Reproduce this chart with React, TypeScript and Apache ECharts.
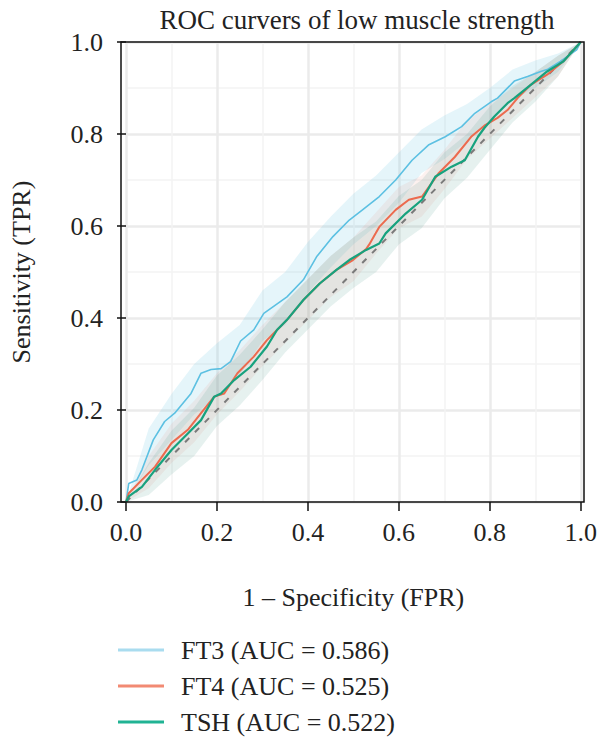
import React, { useEffect, useRef } from "react";
import * as echarts from "echarts";

const TITLE = "ROC curvers of low muscle strength";
const X_NAME = "1 – Specificity (FPR)";
const Y_NAME = "Sensitivity (TPR)";
const SERIES_NAMES = ["FT3 (AUC = 0.586)", "FT4 (AUC = 0.525)", "TSH (AUC = 0.522)"];

const FT3: number[][] = [
  [0, 0], [0.006, 0.04], [0.024, 0.048], [0.035, 0.07], [0.06, 0.135], [0.085, 0.175],
  [0.107, 0.193], [0.143, 0.236], [0.165, 0.28], [0.187, 0.288], [0.209, 0.29], [0.23, 0.305],
  [0.252, 0.35], [0.281, 0.374], [0.303, 0.41], [0.354, 0.446], [0.39, 0.483], [0.419, 0.533],
  [0.455, 0.577], [0.491, 0.613], [0.52, 0.635], [0.557, 0.664], [0.593, 0.7], [0.629, 0.743],
  [0.665, 0.776], [0.702, 0.794], [0.738, 0.816], [0.767, 0.845], [0.803, 0.87], [0.817, 0.878],
  [0.854, 0.915], [0.883, 0.925], [0.912, 0.936], [0.926, 0.94], [0.955, 0.958], [0.991, 0.983], [1, 1],
];

const FT4: number[][] = [
  [0, 0], [0.006, 0.019], [0.035, 0.048], [0.064, 0.077], [0.1, 0.128], [0.136, 0.157],
  [0.165, 0.193], [0.194, 0.229], [0.216, 0.236], [0.245, 0.28], [0.281, 0.316], [0.31, 0.352],
  [0.332, 0.374], [0.354, 0.396], [0.39, 0.439], [0.426, 0.475], [0.462, 0.504], [0.499, 0.526],
  [0.528, 0.55], [0.535, 0.56], [0.549, 0.584], [0.557, 0.598], [0.593, 0.635], [0.622, 0.657],
  [0.651, 0.664], [0.687, 0.714], [0.723, 0.75], [0.759, 0.794], [0.788, 0.818], [0.817, 0.835],
  [0.839, 0.852], [0.861, 0.878], [0.89, 0.907], [0.926, 0.929], [0.962, 0.958], [1, 1],
];

const TSH: number[][] = [
  [0, 0], [0.006, 0.012], [0.035, 0.033], [0.064, 0.07], [0.1, 0.113], [0.136, 0.149],
  [0.165, 0.178], [0.194, 0.229], [0.209, 0.236], [0.238, 0.265], [0.274, 0.294], [0.31, 0.338],
  [0.332, 0.374], [0.354, 0.396], [0.39, 0.439], [0.426, 0.475], [0.462, 0.504], [0.491, 0.526],
  [0.528, 0.548], [0.557, 0.562], [0.571, 0.584], [0.615, 0.627], [0.651, 0.657], [0.68, 0.707],
  [0.716, 0.729], [0.745, 0.743], [0.774, 0.794], [0.788, 0.813], [0.81, 0.838], [0.839, 0.867],
  [0.854, 0.878], [0.89, 0.907], [0.926, 0.936], [0.962, 0.958], [1, 1],
];

const DIAGONAL: number[][] = [[0, 0], [1, 1]];

// confidence band grid
const BAND_X = [0, 0.05, 0.1, 0.15, 0.2, 0.25, 0.3, 0.35, 0.4, 0.45, 0.5, 0.55, 0.6, 0.65, 0.7, 0.75, 0.8, 0.85, 0.9, 0.95, 1];
const FT3_UPPER = [0, 0.16, 0.235, 0.3, 0.345, 0.385, 0.46, 0.5, 0.565, 0.62, 0.67, 0.71, 0.76, 0.81, 0.84, 0.865, 0.9, 0.94, 0.96, 0.975, 1];
const FT3_LOWER = [0, 0.08, 0.135, 0.19, 0.23, 0.275, 0.35, 0.385, 0.455, 0.51, 0.56, 0.6, 0.65, 0.715, 0.745, 0.785, 0.83, 0.875, 0.9, 0.935, 1];
const FT4_UPPER = [0, 0.1, 0.17, 0.22, 0.28, 0.33, 0.385, 0.435, 0.485, 0.535, 0.575, 0.63, 0.685, 0.71, 0.765, 0.83, 0.865, 0.9, 0.935, 0.97, 1];
const FT4_LOWER = [0, 0.03, 0.085, 0.13, 0.19, 0.24, 0.295, 0.345, 0.395, 0.445, 0.48, 0.54, 0.595, 0.62, 0.68, 0.745, 0.79, 0.835, 0.88, 0.925, 1];
const TSH_UPPER = [0, 0.085, 0.155, 0.205, 0.275, 0.32, 0.375, 0.435, 0.485, 0.535, 0.575, 0.61, 0.665, 0.7, 0.76, 0.8, 0.86, 0.905, 0.935, 0.97, 1];
const TSH_LOWER = [0, 0.015, 0.06, 0.1, 0.165, 0.21, 0.265, 0.325, 0.375, 0.425, 0.465, 0.5, 0.56, 0.595, 0.66, 0.705, 0.765, 0.825, 0.87, 0.925, 1];

const FONT = "Liberation Serif";

function bandSeries(upper: number[], lower: number[], fill: string) {
  return {
    type: "custom",
    silent: true,
    z: 1,
    data: [[0, 0]],
    renderItem: (_params: any, api: any) => {
      const pts: number[][] = [];
      for (let i = 0; i < BAND_X.length; i++) pts.push(api.coord([BAND_X[i], upper[i]]));
      for (let i = BAND_X.length - 1; i >= 0; i--) pts.push(api.coord([BAND_X[i], lower[i]]));
      return {
        type: "polygon",
        shape: { points: pts },
        style: { fill, stroke: "none" },
      };
    },
  };
}

export default function App() {
  const ref = useRef<HTMLDivElement>(null);
  useEffect(() => {
    document.body.style.margin = "0";
    const chart = echarts.init(ref.current!, undefined, { renderer: "svg" });
    const lineColors = ["#5cc0e2", "#ec6a4e", "#17a27e"];
    const legendColors = ["#a9dcef", "#f28a73", "#20b394"];
    chart.setOption({
      animation: false,
      backgroundColor: "#ffffff",
      title: {
        text: TITLE,
        left: 352,
        textAlign: "center",
        top: 1,
        textStyle: { fontFamily: FONT, fontSize: 27, fontWeight: "normal", color: "#222" },
      },
      grid: { left: 124, top: 42, width: 460, height: 460 },
      xAxis: {
        type: "value",
        min: 0,
        max: 1,
        interval: 0.2,
        name: X_NAME,
        nameLocation: "middle",
        nameGap: 82,
        nameTextStyle: { fontFamily: FONT, fontSize: 26, color: "#222" },
        axisLine: { show: false },
        axisTick: { show: true, length: 9, lineStyle: { color: "#111", width: 1.5 } },
        axisLabel: {
          fontFamily: FONT, fontSize: 26, color: "#222", margin: 17,
          formatter: (v: number) => v.toFixed(1),
        },
        splitLine: { show: true, lineStyle: { color: "#ebebeb", width: 2.5 } },
        minorTick: { show: false, splitNumber: 2 },
        minorSplitLine: { show: true, lineStyle: { color: "#f3f3f3", width: 1.5 } },
      },
      yAxis: {
        type: "value",
        min: 0,
        max: 1,
        interval: 0.2,
        offset: 3,
        name: Y_NAME,
        nameLocation: "middle",
        nameGap: 89,
        nameTextStyle: { fontFamily: FONT, fontSize: 26, color: "#222" },
        axisLine: { show: false },
        axisTick: { show: true, length: 9, lineStyle: { color: "#111", width: 1.5 } },
        axisLabel: {
          fontFamily: FONT, fontSize: 26, color: "#222", margin: 20,
          formatter: (v: number) => v.toFixed(1),
        },
        splitLine: { show: true, lineStyle: { color: "#ebebeb", width: 2.5 } },
        minorTick: { show: false, splitNumber: 2 },
        minorSplitLine: { show: true, lineStyle: { color: "#f3f3f3", width: 1.5 } },
      },
      legend: {
        orient: "vertical",
        left: 118,
        top: 637,
        padding: 0,
        itemWidth: 46,
        itemHeight: 3,
        itemGap: 10,
        icon: "rect",
        textStyle: { fontFamily: FONT, fontSize: 26, color: "#222", lineHeight: 26, padding: [0, 0, 0, 12] },
        data: SERIES_NAMES.map((n, i) => ({ name: n, itemStyle: { color: legendColors[i] } })),
      },
      graphic: [
        {
          type: "rect",
          z: 100,
          silent: true,
          shape: { x: 121, y: 42, width: 463, height: 460 },
          style: { fill: "none", stroke: "#111", lineWidth: 1.5 },
        },
      ],
      series: [
        bandSeries(FT3_UPPER, FT3_LOWER, "rgba(110,200,230,0.18)"),
        bandSeries(FT4_UPPER, FT4_LOWER, "rgba(240,120,100,0.10)"),
        bandSeries(TSH_UPPER, TSH_LOWER, "rgba(60,150,130,0.13)"),
        {
          type: "line",
          data: DIAGONAL,
          silent: true,
          symbol: "none",
          z: 2,
          lineStyle: { color: "#7a7a7a", width: 2, type: [6, 8] },
        },
        {
          name: SERIES_NAMES[0], type: "line", data: FT3, symbol: "none", z: 3,
          lineStyle: { color: lineColors[0], width: 1.6 }, itemStyle: { color: lineColors[0] },
        },
        {
          name: SERIES_NAMES[1], type: "line", data: FT4, symbol: "none", z: 3,
          lineStyle: { color: lineColors[1], width: 2 }, itemStyle: { color: lineColors[1] },
        },
        {
          name: SERIES_NAMES[2], type: "line", data: TSH, symbol: "none", z: 4,
          lineStyle: { color: lineColors[2], width: 2.2 }, itemStyle: { color: lineColors[2] },
        },
      ],
    });
    return () => chart.dispose();
  }, []);
  return <div ref={ref} style={{ width: 600, height: 739 }} />;
}
